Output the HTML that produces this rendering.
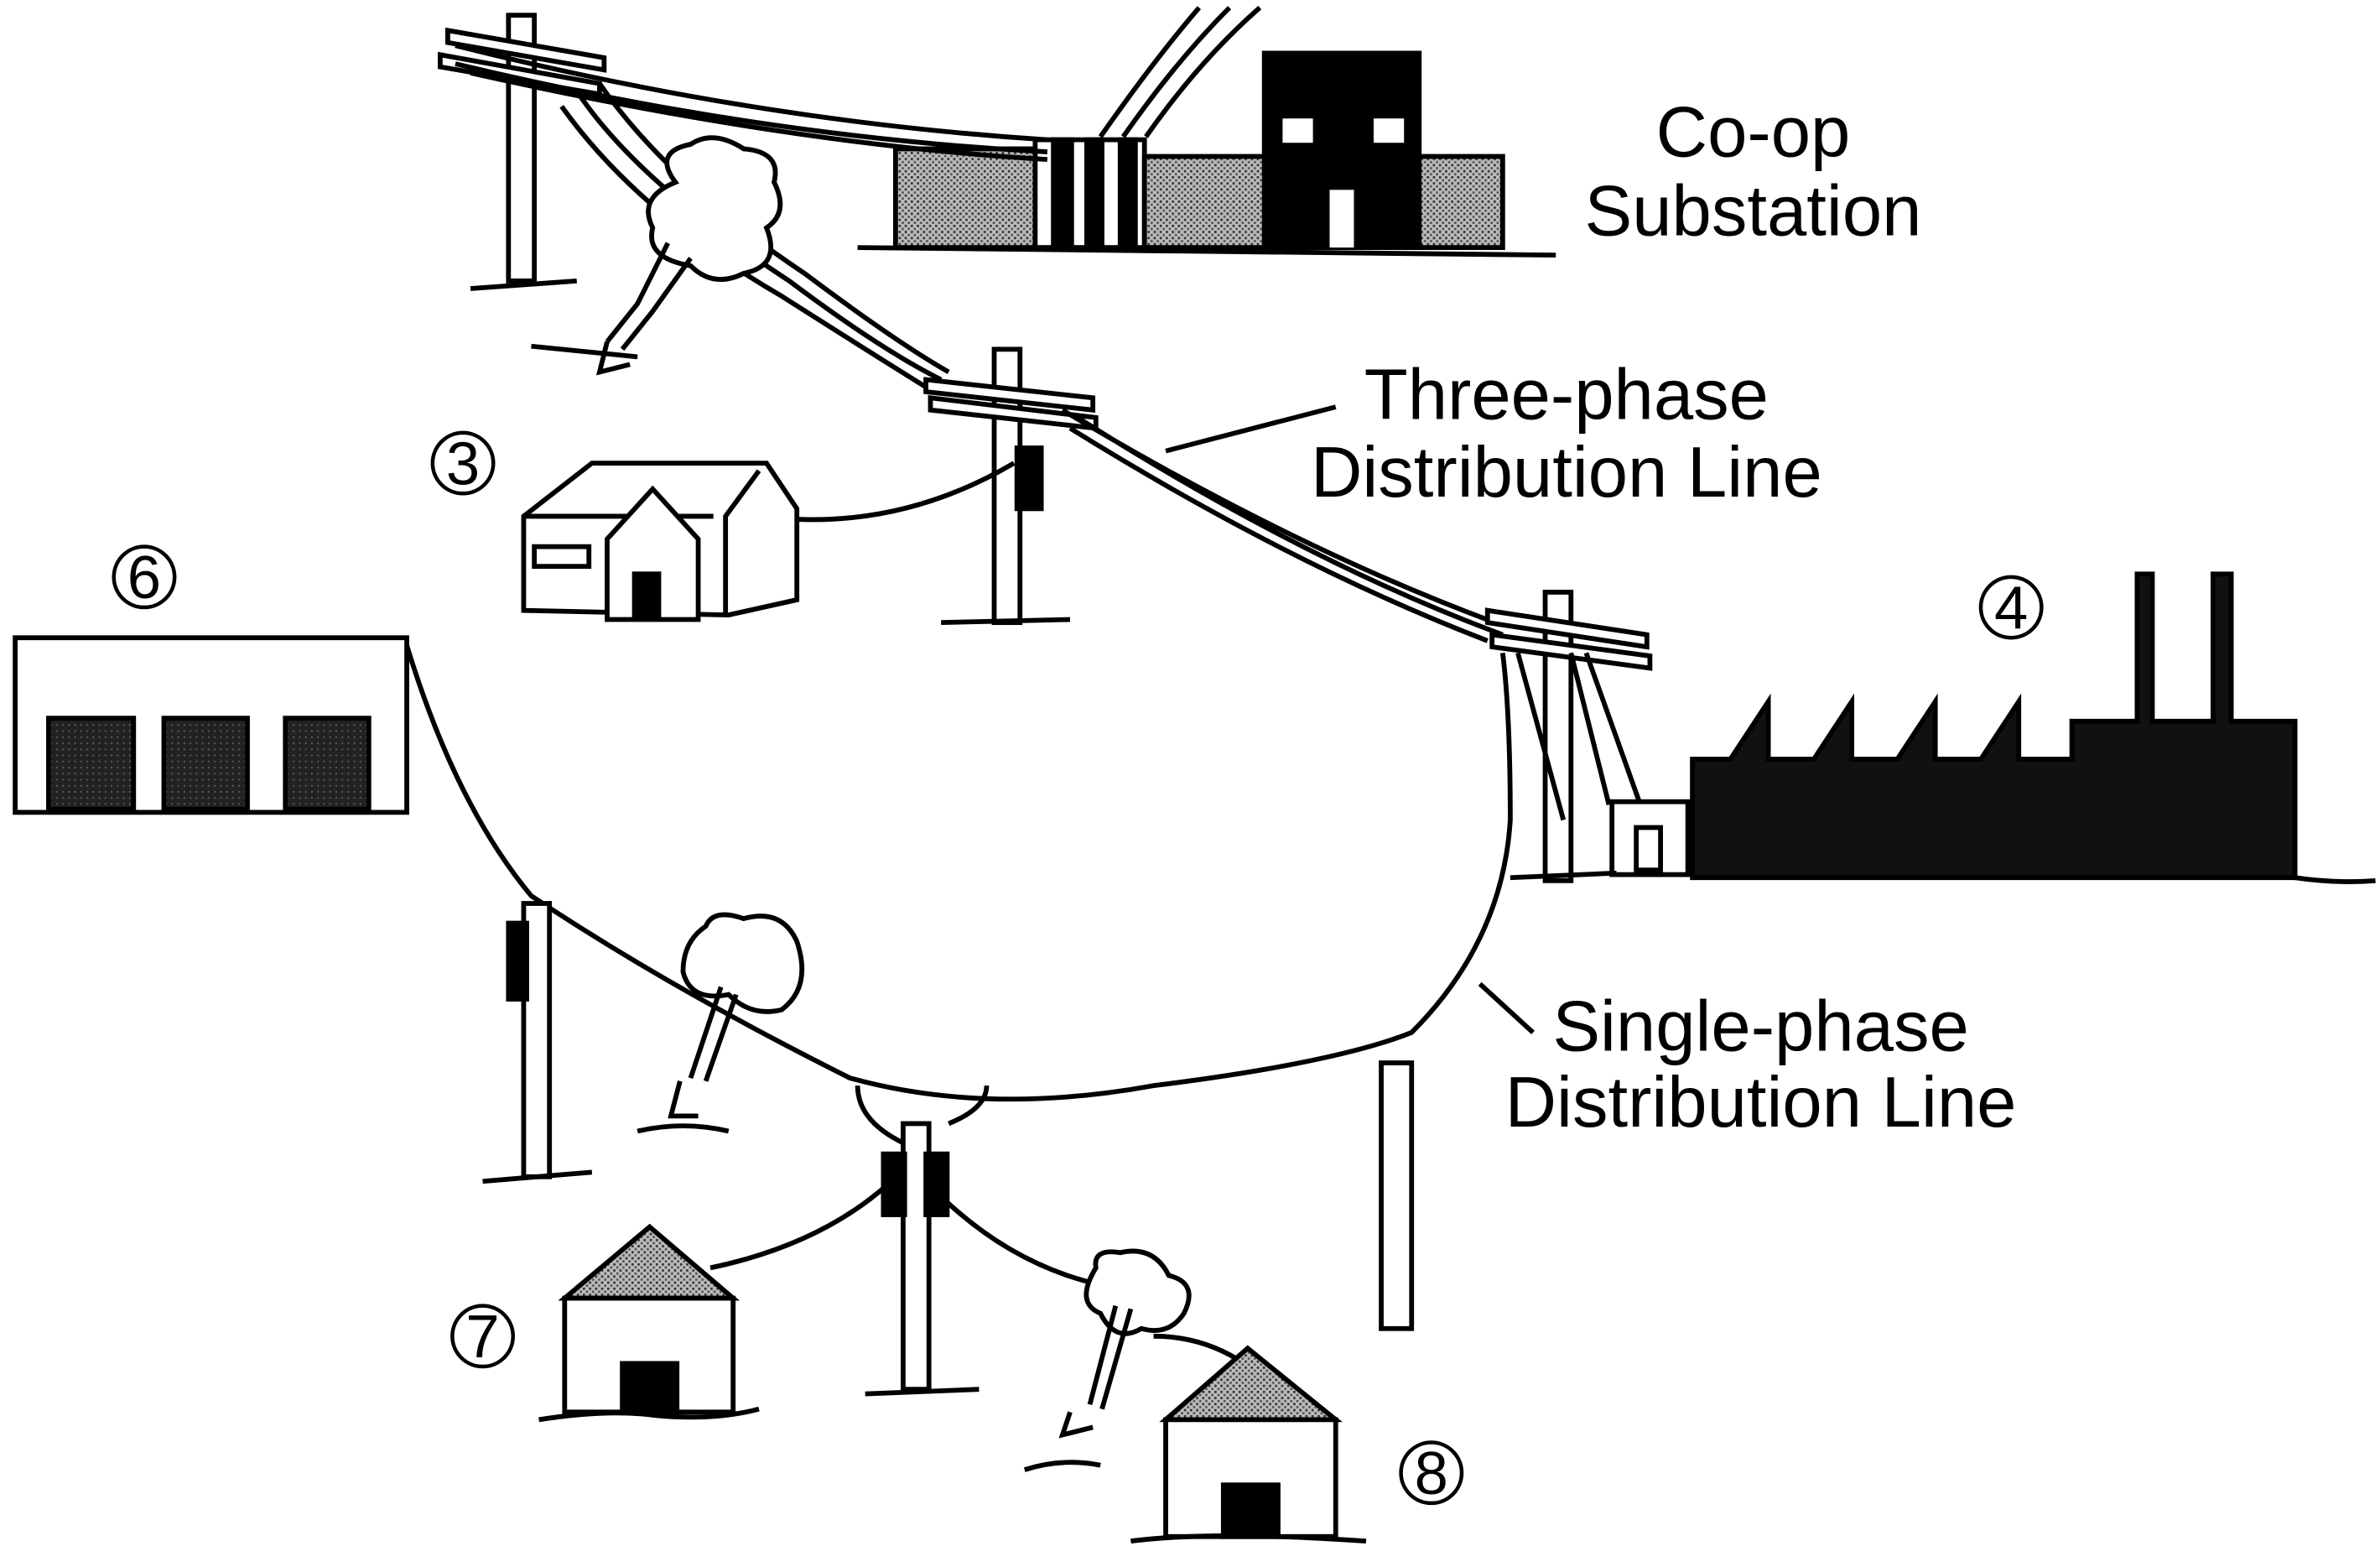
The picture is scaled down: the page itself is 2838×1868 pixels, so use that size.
<!DOCTYPE html>
<html><head><meta charset="utf-8"><style>
html,body{margin:0;padding:0;background:#fff;}
svg{display:block;}
text{font-family:"Liberation Sans",sans-serif;fill:#000;}
</style></head><body>
<svg width="2838" height="1868" viewBox="0 0 1568 1032" xmlns="http://www.w3.org/2000/svg">
<defs>
<pattern id="dots" width="4" height="4" patternUnits="userSpaceOnUse"><rect width="4" height="4" fill="#bbb"/><rect x="0" y="0" width="1.5" height="1.5" fill="#333"/><rect x="2" y="2" width="1.5" height="1.5" fill="#555"/></pattern>
<pattern id="dark" width="4" height="4" patternUnits="userSpaceOnUse"><rect width="4" height="4" fill="#222"/><rect x="1" y="1" width="1" height="1" fill="#666"/></pattern>
</defs>
<g fill="none" stroke="#000" stroke-width="3.2">
<rect x="590" y="98" width="92" height="65" fill="url(#dots)"/>
<rect x="682" y="92" width="72" height="71" fill="#fff"/>
<rect x="694" y="92" width="12" height="71" fill="#000"/><rect x="716" y="92" width="10" height="71" fill="#000"/><rect x="738" y="92" width="10" height="71" fill="#000"/>
<rect x="754" y="103" width="80" height="60" fill="url(#dots)"/>
<rect x="833" y="35" width="102" height="128" fill="#000"/>
<rect x="845" y="78" width="20" height="16" fill="#fff" stroke="none"/><rect x="905" y="78" width="20" height="16" fill="#fff" stroke="none"/>
<rect x="876" y="125" width="16" height="38" fill="#fff" stroke="none"/>
<rect x="935" y="103" width="55" height="60" fill="url(#dots)"/>
<path d="M565 163 L1025 168"/>
<path d="M725 90 Q760 40 790 5 M740 90 Q775 40 810 5 M755 90 Q790 40 830 5"/>
<rect x="335" y="10" width="17" height="175" fill="#fff"/>
<path d="M295 20 L398 38 L398 46 L295 28Z M290 36 L395 55 L395 62 L290 44Z" fill="#fff"/>
<path d="M310 190 L380 185"/>
<path d="M300 30 Q500 80 690 92 M300 42 Q500 90 690 100 M310 48 Q520 95 690 105"/>
<path d="M380 60 Q420 120 520 185 Q580 230 620 250 M395 55 Q440 120 530 180 Q590 225 625 245 M370 70 Q420 140 515 195 Q570 230 615 258"/>
<path d="M445 120 Q430 100 455 95 Q470 85 490 98 Q515 100 510 120 Q520 140 505 150 Q515 175 490 180 Q470 190 455 175 Q425 170 430 150 Q420 130 445 120Z" fill="#fff"/>
<path d="M440 160 L420 200 L400 225 M455 170 L430 205 L410 230"/>
<path d="M350 228 Q390 232 420 235 M400 225 L395 245 L415 240"/>
<rect x="655" y="230" width="17" height="180" fill="#fff"/>
<path d="M610 250 L720 262 L720 270 L610 258Z M613 262 L722 275 L722 282 L613 270Z" fill="#fff"/>
<rect x="670" y="295" width="16" height="40" fill="#000"/>
<path d="M620 410 L705 408"/>
<path d="M700 270 Q850 360 985 410 M710 275 Q860 370 990 418 M705 282 Q850 372 980 422"/>
<path d="M768 297 L880 268"/>
<path d="M345 340 L390 305 L505 305 L525 335 L525 395 L480 405 L345 402Z" fill="#fff"/>
<path d="M500 310 L478 340 L478 405 M345 340 L470 340"/>
<path d="M400 355 L430 322 L460 355 L460 408 L400 408Z" fill="#fff"/>
<rect x="418" y="378" width="16" height="28" fill="#000"/>
<rect x="352" y="360" width="36" height="13" fill="#fff"/>
<path d="M525 342 Q600 345 668 305"/>
<rect x="1018" y="390" width="17" height="190" fill="#fff"/>
<path d="M980 402 L1085 418 L1085 426 L980 410Z M983 418 L1087 432 L1087 440 L983 426Z" fill="#fff"/>
<path d="M1035 430 L1060 530 M1045 430 L1080 528 M1000 430 L1030 540"/>
<rect x="10" y="420" width="258" height="115" fill="#fff"/>
<rect x="32" y="473" width="56" height="60" fill="url(#dark)"/>
<rect x="108" y="473" width="55" height="60" fill="url(#dark)"/>
<rect x="188" y="473" width="55" height="60" fill="url(#dark)"/>
<path d="M1115 578 L1115 500 L1140 500 L1165 462 L1165 500 L1195 500 L1220 462 L1220 500 L1250 500 L1275 462 L1275 500 L1305 500 L1330 462 L1330 500 L1365 500 L1365 475 L1408 475 L1408 378 L1418 378 L1418 475 L1458 475 L1458 378 L1470 378 L1470 475 L1512 475 L1512 578Z" fill="#111"/>
<rect x="1062" y="528" width="50" height="48" fill="#fff"/>
<rect x="1078" y="545" width="16" height="28" fill="#fff"/>
<path d="M995 578 L1065 575 M1512 578 Q1540 582 1565 580"/>
<path d="M268 425 Q300 530 350 590 Q440 650 560 710 Q650 735 760 715 Q880 700 930 680 Q990 620 995 540 Q995 470 990 430"/>
<path d="M565 715 Q565 740 600 755 M625 740 Q650 730 650 715"/>
<path d="M975 648 L1010 680"/>
<rect x="345" y="595" width="17" height="180" fill="#fff"/>
<rect x="335" y="608" width="12" height="50" fill="#000"/>
<path d="M318 778 L390 772"/>
<rect x="595" y="740" width="17" height="175" fill="#fff"/>
<rect x="582" y="760" width="14" height="40" fill="#000"/><rect x="610" y="760" width="14" height="40" fill="#000"/>
<path d="M570 918 L645 915"/>
<rect x="910" y="700" width="20" height="175" fill="#fff"/>
<path d="M465 610 Q470 598 490 605 Q515 598 525 620 Q535 650 515 665 Q495 670 480 655 Q455 660 450 640 Q450 620 465 610Z" fill="#fff"/>
<path d="M475 650 L455 710 M485 655 L465 712 M448 712 L442 735 L460 735"/>
<path d="M420 745 Q450 738 480 745"/>
<path d="M372 855 L428 808 L483 855Z" fill="url(#dots)"/>
<rect x="372" y="855" width="111" height="75" fill="#fff"/>
<rect x="410" y="898" width="36" height="32" fill="#000"/>
<path d="M355 935 Q400 928 430 932 Q470 936 500 928"/>
<path d="M468 835 Q540 820 585 780 M612 780 Q660 830 720 845"/>
<path d="M722 835 Q720 822 738 825 Q760 820 770 840 Q790 845 780 865 Q770 880 752 875 Q735 885 725 865 Q708 858 722 835Z" fill="#fff"/>
<path d="M735 860 L718 925 M745 862 L726 928 M705 930 L700 945 L720 940"/>
<path d="M675 968 Q700 960 725 965 M760 880 Q790 880 815 895"/>
<path d="M768 935 L822 888 L880 935Z" fill="url(#dots)"/>
<rect x="768" y="935" width="112" height="77" fill="#fff"/>
<rect x="806" y="978" width="36" height="34" fill="#000"/>
<path d="M745 1015 Q800 1008 900 1015"/>
</g>
<g font-size="47">
<text x="1155" y="103" text-anchor="middle">Co-op</text>
<text x="1155" y="155" text-anchor="middle">Substation</text>
<text x="1032" y="276" text-anchor="middle">Three-phase</text>
<text x="1032" y="327" text-anchor="middle">Distribution Line</text>
<text x="1160" y="692" text-anchor="middle">Single-phase</text>
<text x="1160" y="742" text-anchor="middle">Distribution Line</text>
</g>
<g font-size="40" text-anchor="middle">
<circle cx="305" cy="305" r="20" fill="none" stroke="#000" stroke-width="2.5"/><text x="305" y="319">3</text>
<circle cx="95" cy="380" r="20" fill="none" stroke="#000" stroke-width="2.5"/><text x="95" y="394">6</text>
<circle cx="1325" cy="400" r="20" fill="none" stroke="#000" stroke-width="2.5"/><text x="1325" y="414">4</text>
<circle cx="318" cy="880" r="20" fill="none" stroke="#000" stroke-width="2.5"/><text x="318" y="894">7</text>
<circle cx="943" cy="970" r="20" fill="none" stroke="#000" stroke-width="2.5"/><text x="943" y="984">8</text>
</g>
</svg>
</body></html>
